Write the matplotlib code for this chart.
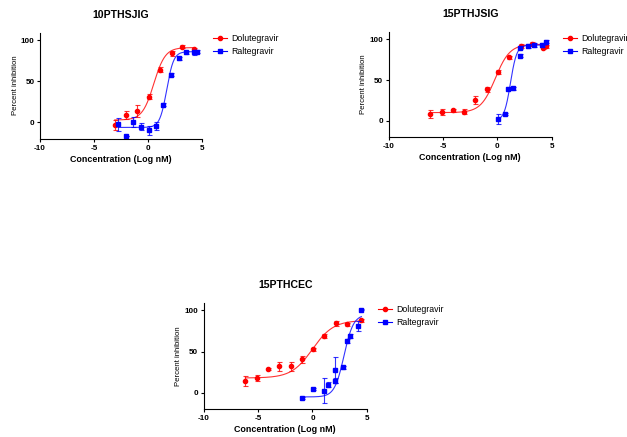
import numpy as np
import matplotlib
matplotlib.use('Agg')
from matplotlib import pyplot as plt

# Dose response of three isolates.
# x is log10 concentration (nM), y is percent inhibition, err is SEM.

titles = ['10PTHSJIG', '15PTHJSIG', '15PTHCEC']
drugs = ['Dolutegravir', 'Raltegravir']

# 10PTHSJIG
dtg_x_1 = [-3.07, -2.0, -0.98, 0.1, 1.15, 2.2, 3.2, 4.26]
dtg_y_1 = [-2.8, 9.3, 14, 31.5, 64, 84, 92, 89]
dtg_e_1 = [6, 5, 7, 3, 3, 3, 2, 2]
ral_x_1 = [-2.76, -2.05, -1.38, -0.67, 0.07, 0.72, 1.43, 2.16, 2.87, 3.58, 4.26, 4.57]
ral_y_1 = [-2, -17, 0.4, -5, -9.7, -4, 21.8, 58, 78, 85, 85, 86]
ral_e_1 = [8, 0, 6, 4, 5, 5, 2, 2, 2, 2, 3, 2]

# 15PTHJSIG
dtg_x_2 = [-6.17, -5.09, -4.11, -3.07, -2.02, -0.95, 0.09, 1.07, 2.15, 3.16, 4.2, 4.48]
dtg_y_2 = [8.2, 10.6, 13, 11, 25.7, 38.8, 60, 78, 91.8, 94.7, 90, 91.4]
dtg_e_2 = [5, 4, 2, 3, 5, 3, 2, 2, 2, 2, 2, 2]
ral_x_2 = [0.03, 0.7, 0.98, 1.45, 2.05, 2.1, 2.8, 3.4, 4.1, 4.5]
ral_y_2 = [2, 8.5, 39.6, 40, 80, 90, 92, 93, 93, 97]
ral_e_2 = [6, 1, 2, 2, 2, 2, 2, 2, 2, 2]

# 15PTHCEC
dtg_x_3 = [-6.17, -5.12, -4.08, -3.04, -1.96, -0.92, 0.09, 1.1, 2.15, 3.19, 4.48]
dtg_y_3 = [14.5, 18, 28.6, 32, 32, 40.7, 53, 69, 84.7, 83, 88]
dtg_e_3 = [6, 4, 1, 6, 5, 4, 2, 2, 3, 2, 2]
ral_x_3 = [-0.98, 0.03, 1.1, 1.47, 2.12, 2.12, 2.8, 3.16, 3.5, 4.2, 4.5]
ral_y_3 = [-6, 4.8, 2.4, 9.7, 14.5, 28, 31, 63, 69, 81, 101]
ral_e_3 = [1, 1, 15, 3, 3, 16, 2, 2, 2, 6, 1]

# 4PL fits: bottom, top, logEC50, hill
dtg_fit = [[3, 91, 0.55, 0.82], [10, 94, -0.2, 0.65], [18, 88, 0.0, 0.45]]
ral_fit = [[-6, 86, 1.75, 1.35], [0, 93, 1.2, 1.5], [-5, 95, 2.9, 1.0]]

plt.rcParams['font.family'] = ['Liberation Sans', 'DejaVu Sans']
plt.rcParams['axes.unicode_minus'] = False

RED = '#ff0000'
BLUE = '#0000ff'


def four_pl(x, p):
    bottom, top, ec50, hill = p
    return bottom + (top - bottom) / (1 + 10 ** ((ec50 - x) * hill))


def panel(ax, title, dtg, ral, fits):
    for (x, y, e), fit, col, mk, ms, name in [
            (dtg, fits[0], RED, 'o', 3.0, drugs[0]),
            (ral, fits[1], BLUE, 's', 3.4, drugs[1])]:
        xs = np.linspace(min(x), max(x), 200)
        ax.plot(xs, four_pl(xs, fit), color=col, lw=0.8, alpha=0.8)
        ax.errorbar(x, y, yerr=e, fmt='none', ecolor=col, elinewidth=0.8,
                    capsize=1.8, capthick=0.8, alpha=0.8)
        ax.plot(x, y, linestyle='none', marker=mk, ms=ms, color=col)
        # legend handle: line through the marker
        ax.plot([], [], color=col, marker=mk, ms=ms, lw=0.8, label=name)

    ax.set_xlim(-10, 5)
    ax.set_ylim(-20, 110)
    ax.set_xticks([-10, -5, 0, 5])
    ax.set_yticks([0, 50, 100])
    for s in ['top', 'right']:
        ax.spines[s].set_visible(False)
    for s in ['left', 'bottom']:
        ax.spines[s].set_linewidth(0.8)
    ax.spines['left'].set_bounds(-20, 109)
    ax.tick_params(length=2.5, width=0.8, pad=1.5, labelsize=5.9)
    for lab in ax.get_xticklabels() + ax.get_yticklabels():
        lab.set_fontweight('bold')
    ax.set_xlabel('Concentration (Log nM)', fontsize=6.4, fontweight='bold',
                  labelpad=2.5)
    ax.set_ylabel('Percent inhibition', fontsize=5.6, labelpad=1.5)
    ax.set_title(title, fontsize=7.6, fontweight='bold', pad=10)
    ax.legend(loc='upper left', bbox_to_anchor=(1.05, 1.01), frameon=False,
              fontsize=6.3, handlelength=1.6, handletextpad=0.4,
              labelspacing=0.45, borderaxespad=0)


fig = plt.figure(figsize=(6.27, 4.37), dpi=100)
ax1 = fig.add_axes([0.0638, 0.682, 0.258, 0.245])
ax2 = fig.add_axes([0.620, 0.6865, 0.260, 0.242])
ax3 = fig.add_axes([0.325, 0.0634, 0.260, 0.245])

panel(ax1, titles[0], (dtg_x_1, dtg_y_1, dtg_e_1),
      (ral_x_1, ral_y_1, ral_e_1), (dtg_fit[0], ral_fit[0]))
panel(ax2, titles[1], (dtg_x_2, dtg_y_2, dtg_e_2),
      (ral_x_2, ral_y_2, ral_e_2), (dtg_fit[1], ral_fit[1]))
panel(ax3, titles[2], (dtg_x_3, dtg_y_3, dtg_e_3),
      (ral_x_3, ral_y_3, ral_e_3), (dtg_fit[2], ral_fit[2]))

fig.savefig('out.png', dpi=100)
